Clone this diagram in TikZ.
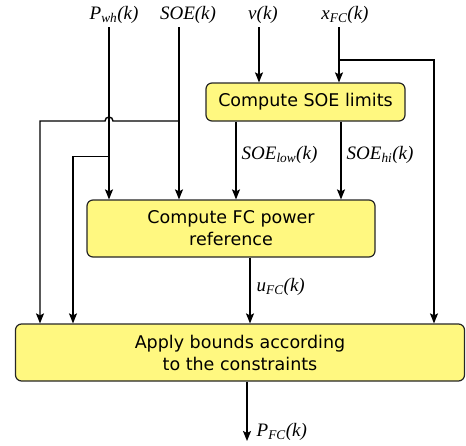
\documentclass[tikz,border=0pt]{standalone}
\usepackage{fontspec}
\setmainfont{DejaVu Sans}
\newfontfamily\lblfont{Liberation Serif}
\usetikzlibrary{arrows.meta}
\begin{document}
\begin{tikzpicture}[x=1pt,y=-1pt,line width=1.4pt,
    blk/.style={draw=black!85, fill=yellow!50, rounded corners=6pt, line width=1.2pt, align=center, inner sep=0pt, font=\fontsize{17.5}{22}\selectfont},
    sig/.style={inner sep=1pt, font=\lblfont\itshape\fontsize{19}{22}\selectfont},
    arr/.style={-{Stealth[length=10pt,width=8pt,inset=2pt]}}]
    \useasboundingbox (0,0) rectangle (466,445);
    \node[blk, minimum width=199pt, minimum height=38pt] (limits) at (305.5,102) {Compute SOE limits};
    \node[blk, minimum width=288pt, minimum height=57pt] (power) at (231,228.5) {Compute FC power\\reference};
    \node[blk, minimum width=449pt, minimum height=57pt] (bounds) at (240,352.5) {Apply bounds according\\to the constraints};
    \node[sig] (pwh) at (114,15) {P\textsubscript{wh}(k)};
    \node[sig] (soe) at (188,15) {SOE(k)};
    \node[sig] (v) at (263,15) {v(k)};
    \node[sig] (xfc) at (345,15) {x\textsubscript{FC}(k)};
    \coordinate (pwh-br) at (109,156.5);
    \coordinate (soe-br) at (179,121);
    \coordinate (xfc-br) at (339,60);
    \coordinate (out) at (247,441);
    \draw[arr] ([xshift=-5pt,yshift=-2pt]pwh.south) -- ([xshift=-5pt]pwh.south |- power.north);
    \draw[arr] ([xshift=-9pt,yshift=-2pt]soe.south) -- ([xshift=-9pt]soe.south |- power.north);
    \draw[arr] ([xshift=-4pt,yshift=-2pt]v.south) -- ([xshift=-4pt]v.south |- limits.north);
    \draw[arr] ([xshift=-6pt,yshift=-2pt]xfc.south) -- ([xshift=-6pt]xfc.south |- limits.north);
    \draw[arr] (xfc-br) -- ++(95,0) coordinate (xfc-r) -- (xfc-r |- bounds.north);
    \draw[arr] (soe-br) -- ++(-66,0) arc[start angle=0, end angle=-180, radius=4] -- ++(-65,0) coordinate (soe-l) -- (soe-l |- bounds.north);
    \draw[arr] (pwh-br) -- ++(-36,0) coordinate (pwh-l) -- (pwh-l |- bounds.north);
    \draw[arr] ([xshift=-69.5pt]limits.south) -- node[sig, right=4pt, pos=0.43]{SOE\textsubscript{low}(k)} ([xshift=-69.5pt]limits.south |- power.north);
    \draw[arr] ([xshift=35.5pt]limits.south) -- node[sig, right=4pt, pos=0.43]{SOE\textsubscript{hi}(k)} ([xshift=35.5pt]limits.south |- power.north);
    \draw[arr] ([xshift=19pt]power.south) -- node[sig, right=5pt, pos=0.45]{u\textsubscript{FC}(k)} ([xshift=19pt]power.south |- bounds.north);
    \draw[arr] (bounds.south -| out) -- node[sig, right=8pt, pos=0.85]{P\textsubscript{FC}(k)} (out);
\end{tikzpicture}
\end{document}
